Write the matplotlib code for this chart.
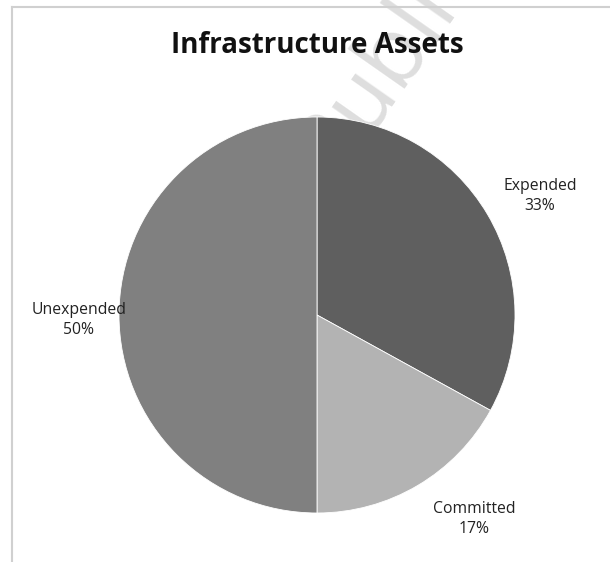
import matplotlib
matplotlib.use("Agg")
import matplotlib.pyplot as plt
from matplotlib.lines import Line2D

title = "Infrastructure Assets"
categories = ["Expended", "Committed", "Unexpended"]
values = [33, 17, 50]
colors = ["#5f5f5f", "#b3b3b3", "#808080"]

W, H = 610, 562
fig = plt.figure(figsize=(W / 100, H / 100), dpi=100)
ax = fig.add_axes([0, 0, 1, 1])


def py(y):
    return H - y


# frame lines (chart area border)
fig.add_artist(Line2D([12 / W, 12 / W], [0, 1 - 7 / H], color="#d0d0d0", lw=1.5))
fig.add_artist(Line2D([12 / W, 1], [1 - 7 / H, 1 - 7 / H], color="#d0d0d0", lw=1.5))

# watermark
ax.text(333, py(178), "Public", fontsize=66, color="#dedede", rotation=55,
        rotation_mode="anchor", ha="left", va="baseline",
        family="Open Sans", zorder=0, clip_on=True)

ax.pie(values, colors=colors, startangle=90, counterclock=False,
       center=(317, py(315)), radius=198, frame=True,
       wedgeprops=dict(edgecolor="white", linewidth=0.6))
ax.set_xlim(0, W)
ax.set_ylim(0, H)
ax.set_aspect("equal")
ax.axis("off")

ax.text(317, py(53), title, ha="center", va="baseline",
        fontsize=20, fontweight="bold", family="Open Sans", color="#111111", zorder=3)

label_pos = {"Expended": (540, 196), "Committed": (474, 519), "Unexpended": (79, 320)}
for c, v in zip(categories, values):
    x, y = label_pos[c]
    ax.text(x, py(y), f"{c}\n{v}%", ha="center", va="center", fontsize=11.3,
            family="Open Sans", color="#222222", linespacing=1.35, zorder=5)

fig.savefig("out.png", dpi=100)
